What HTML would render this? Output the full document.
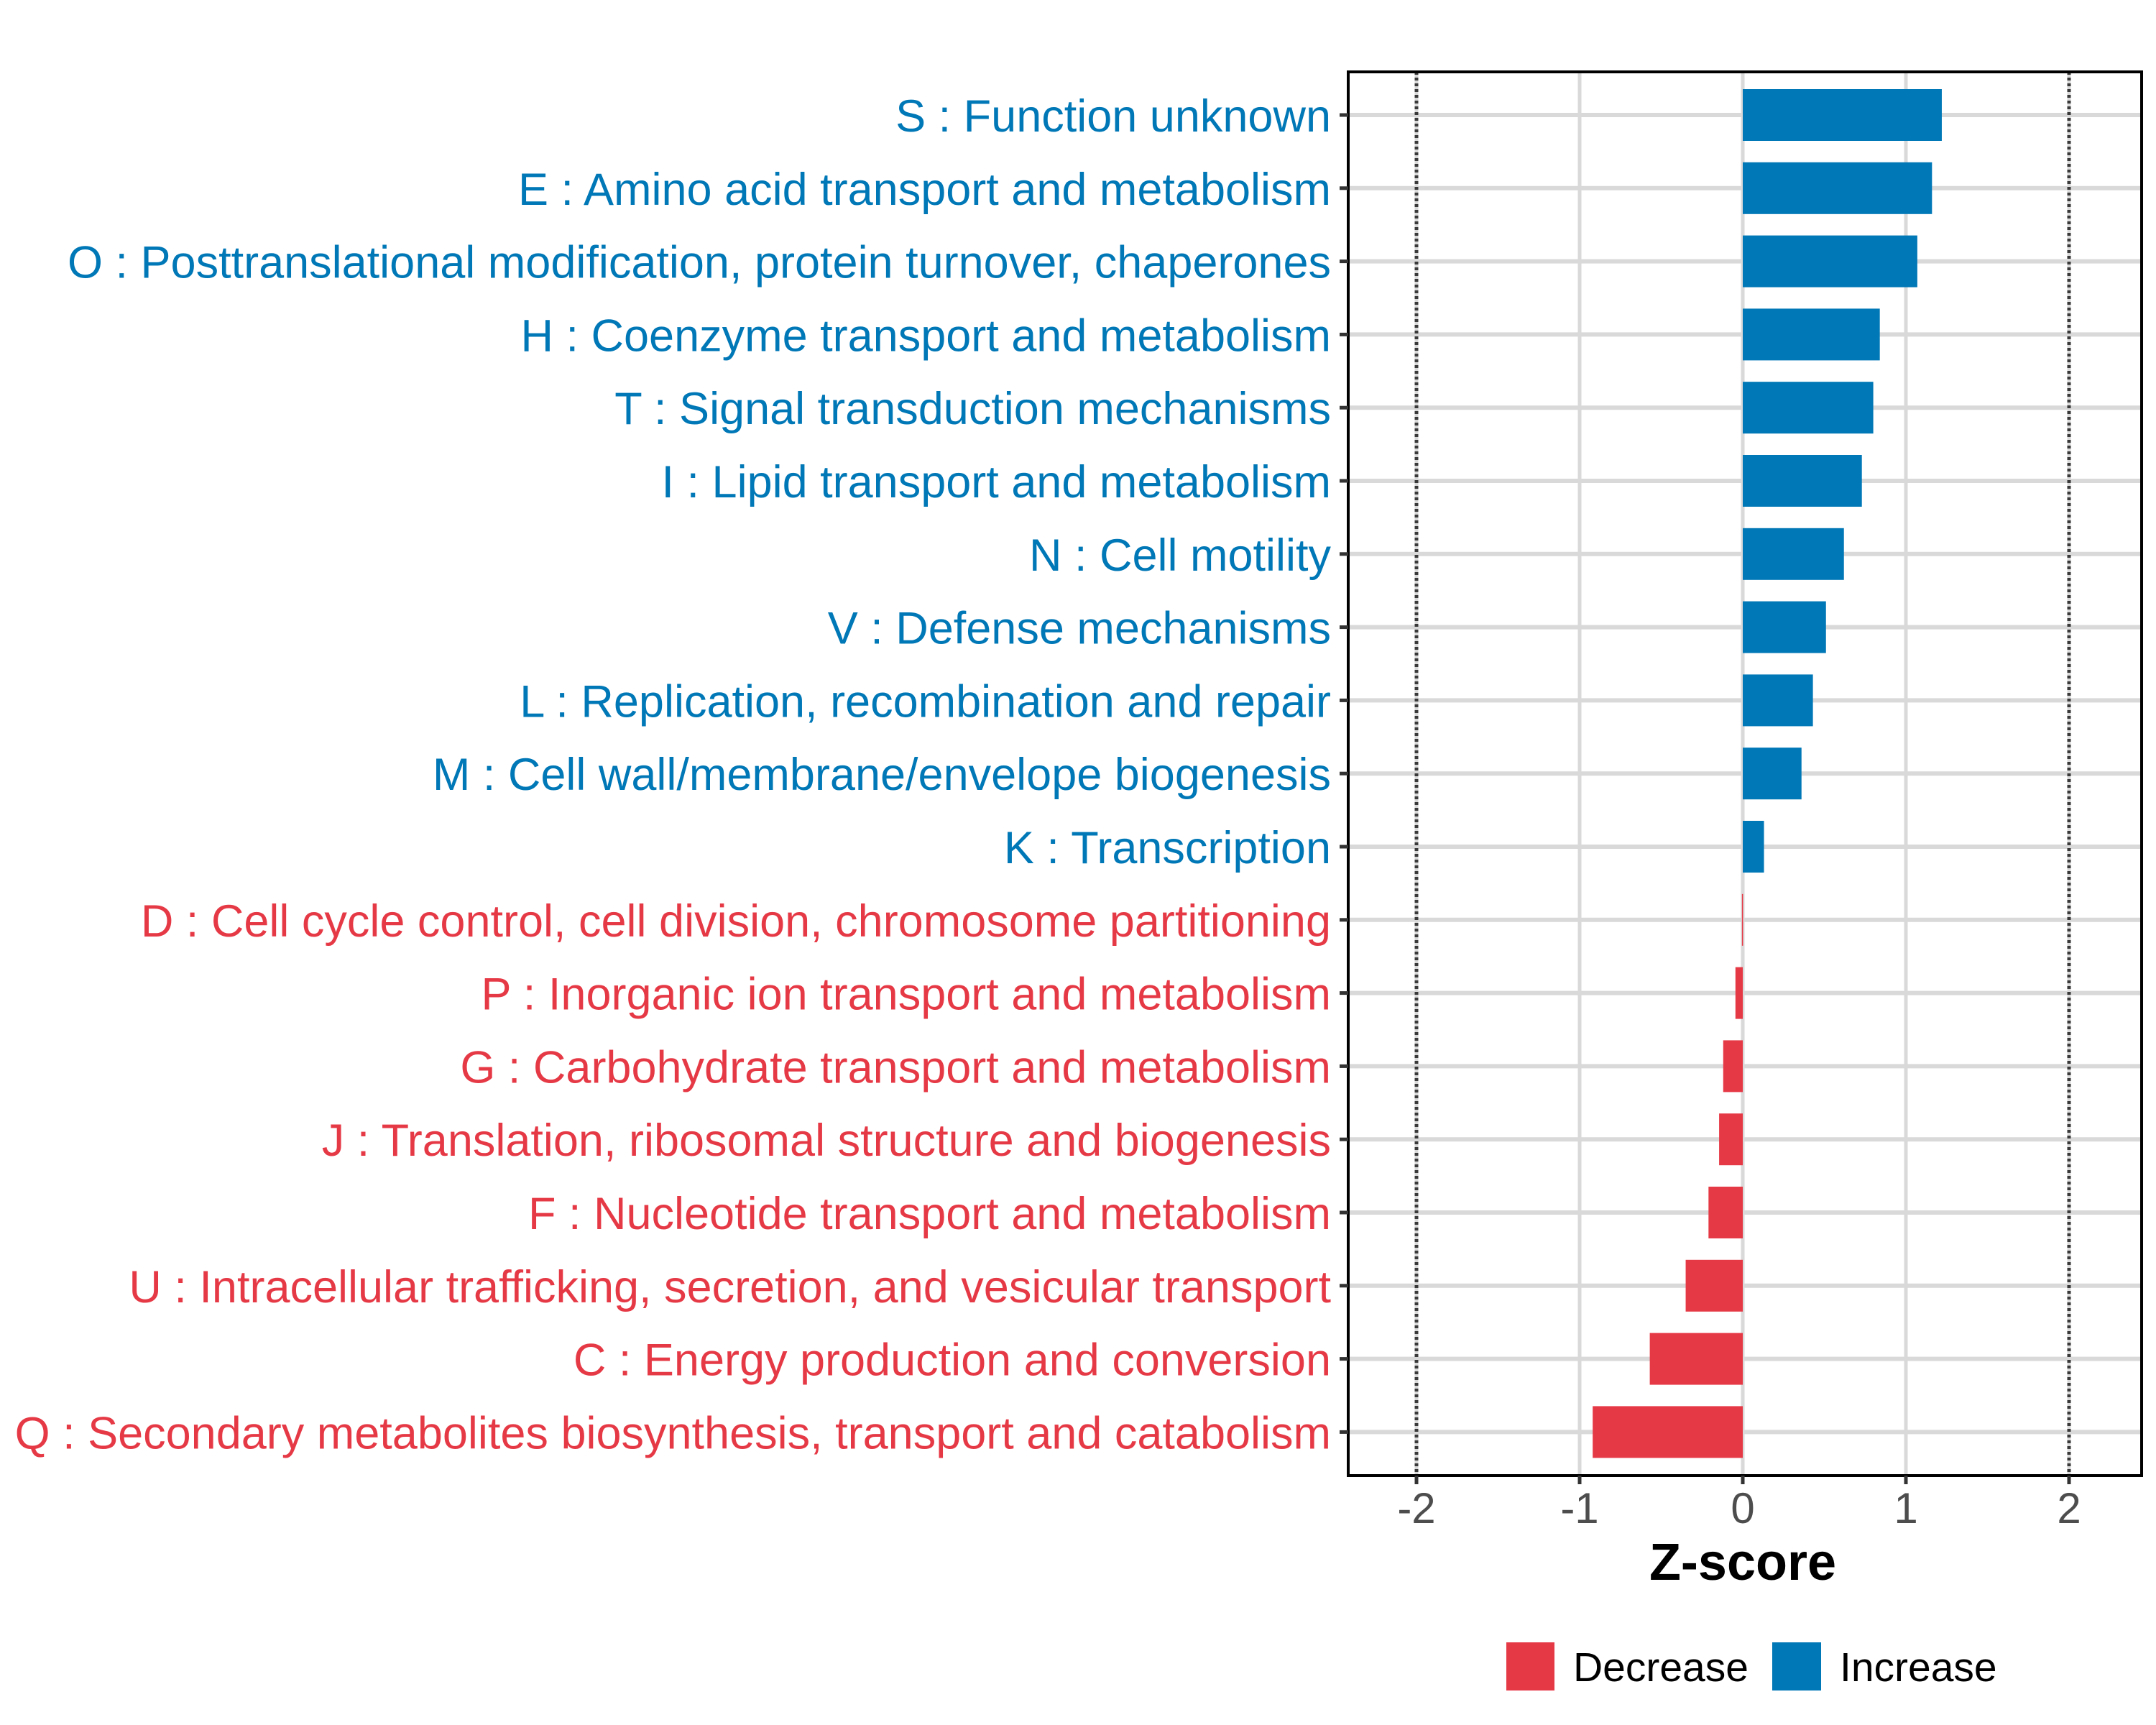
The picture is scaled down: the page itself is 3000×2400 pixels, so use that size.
<!DOCTYPE html>
<html><head><meta charset="utf-8"><style>
html,body{margin:0;padding:0;background:#fff;}
svg{display:block;font-family:"Liberation Sans",sans-serif;}
</style></head><body>
<svg id="chart" width="3000" height="2400" viewBox="0 0 3000 2400" xmlns="http://www.w3.org/2000/svg">
<rect width="3000" height="2400" fill="#fff"/>
<g id="grid"></g>
<g id="bars"></g>
<g id="refs"></g>
<rect x="1876" y="100" width="1104" height="1953" fill="none" stroke="#000" stroke-width="4"/>
<g id="yaxis"></g>
<g id="xaxis"></g>
<text x="2425" y="2198" text-anchor="middle" font-size="72" font-weight="bold" fill="#000">Z-score</text>
<g>
<rect x="2096" y="2285" width="67" height="67" fill="#E63946"/>
<text x="2189" y="2339" font-size="57" fill="#000">Decrease</text>
<rect x="2466" y="2285" width="68" height="67" fill="#0077B6"/>
<text x="2560" y="2339" font-size="57" fill="#000">Increase</text>
</g>
</svg>
<script>
const categories = [
"S : Function unknown",
"E : Amino acid transport and metabolism",
"O : Posttranslational modification, protein turnover, chaperones",
"H : Coenzyme transport and metabolism",
"T : Signal transduction mechanisms",
"I : Lipid transport and metabolism",
"N : Cell motility",
"V : Defense mechanisms",
"L : Replication, recombination and repair",
"M : Cell wall/membrane/envelope biogenesis",
"K : Transcription",
"D : Cell cycle control, cell division, chromosome partitioning",
"P : Inorganic ion transport and metabolism",
"G : Carbohydrate transport and metabolism",
"J : Translation, ribosomal structure and biogenesis",
"F : Nucleotide transport and metabolism",
"U : Intracellular trafficking, secretion, and vesicular transport",
"C : Energy production and conversion",
"Q : Secondary metabolites biosynthesis, transport and catabolism"
];
const zscores = [1.22, 1.16, 1.07, 0.84, 0.80, 0.73, 0.62, 0.51, 0.43, 0.36, 0.13, -0.005, -0.045, -0.12, -0.145, -0.21, -0.35, -0.57, -0.92];
const xTicks = [-2, -1, 0, 1, 2];
const xTickLabels = ["-2", "-1", "0", "1", "2"];
const refLines = [-2, 2];

const NS = "http://www.w3.org/2000/svg";
const X0 = 2425, UNIT = 227, Y0 = 160, STEP = 101.8, BARH = 72;
const BLUE = "#0077B6", RED = "#E63946";
function xs(v){ return X0 + v*UNIT; }
function ys(i){ return Y0 + i*STEP; }
function mk(tag, attrs, parent){ const e=document.createElementNS(NS,tag); for(const k in attrs) e.setAttribute(k,attrs[k]); parent.appendChild(e); return e; }

const grid=document.getElementById("grid"), bars=document.getElementById("bars"), refs=document.getElementById("refs"), yaxis=document.getElementById("yaxis"), xaxis=document.getElementById("xaxis");

categories.forEach((c,i)=>{
  const g = mk("line",{x1:1876,x2:2980,y1:ys(i),y2:ys(i),stroke:"#D9D9D9","stroke-width":6},grid);
  
  
});
xTicks.forEach(v=>{
  const g = mk("line",{x1:xs(v),x2:xs(v),y1:100,y2:2053,stroke:"#D9D9D9","stroke-width":5},grid);
  
  
});
zscores.forEach((v,i)=>{
  const x = Math.min(xs(0), xs(v)), w = Math.max(Math.abs(xs(v)-xs(0)), 1.5);
  const r = mk("rect",{x:x,y:ys(i)-BARH/2,width:w,height:BARH,fill:v>=0?BLUE:RED},bars);
  
  
});
refLines.forEach(v=>{
  const l = mk("line",{x1:xs(v),x2:xs(v),y1:100,y2:2053,stroke:"#3a3a3a","stroke-width":5,"stroke-dasharray":"4 4"},refs);
  
  
});
categories.forEach((c,i)=>{
  const t = mk("line",{x1:1864,x2:1876,y1:ys(i),y2:ys(i),stroke:"#333","stroke-width":5},yaxis);
  
  
  const tx = mk("text",{x:1852,y:ys(i)+23,"text-anchor":"end","font-size":63,fill:zscores[i]>=0?BLUE:RED},yaxis);
  tx.textContent = c;
  
  
});
xTicks.forEach((v,i)=>{
  const t = mk("line",{x1:xs(v),x2:xs(v),y1:2053,y2:2065,stroke:"#333","stroke-width":5},xaxis);
  
  
  const tx = mk("text",{x:xs(v),y:2119,"text-anchor":"middle","font-size":60,fill:"#4D4D4D"},xaxis);
  tx.textContent = xTickLabels[i];
  
  
});
</script>
</body></html>
